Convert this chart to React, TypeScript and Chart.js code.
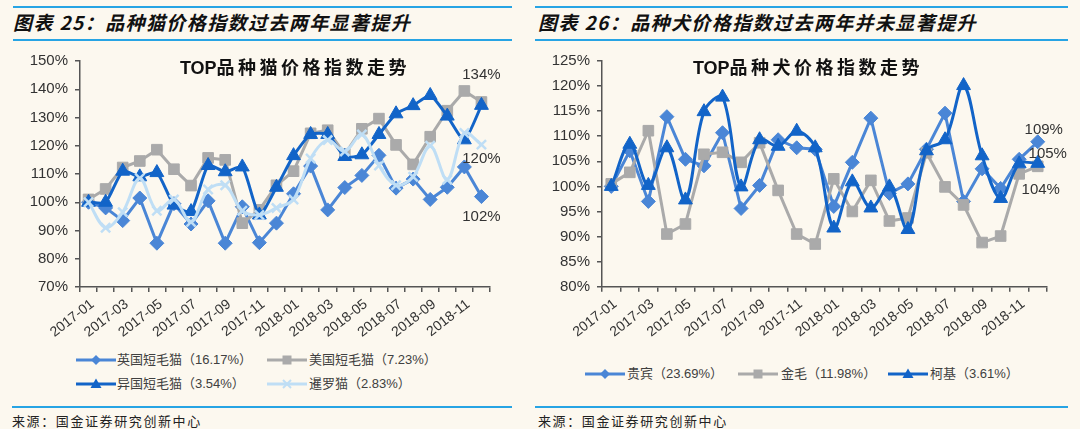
import React, { useEffect, useRef } from 'react';
import { Chart, registerables } from 'chart.js';

Chart.register(...registerables);

// ---------- data ----------
const months = [
  '2017-01', '2017-02', '2017-03', '2017-04', '2017-05', '2017-06',
  '2017-07', '2017-08', '2017-09', '2017-10', '2017-11', '2017-12',
  '2018-01', '2018-02', '2018-03', '2018-04', '2018-05', '2018-06',
  '2018-07', '2018-08', '2018-09', '2018-10', '2018-11', '2018-12',
];

// cats (index, %)
const catBritish = [100, 98, 93.5, 101.5, 85.5, 99.5, 92.3, 100.5, 85.5, 98.4, 85.7, 92.6, 103, 112.8, 97.3, 105.2, 109.5, 116.6, 105, 108.2, 101, 105.3, 112.5, 102];
const catAmerican = [101, 104.7, 112.3, 114.6, 118.6, 111.7, 105.9, 115.7, 115, 92.6, 97.3, 106, 111, 124.4, 125.5, 117, 126, 129.6, 120.3, 113.4, 123.2, 132.4, 139.4, 135.5];
const catExotic = [100, 100, 111, 109, 110.5, 99, 96.7, 113, 110.8, 112.5, 95.5, 105.3, 116.5, 124, 124, 116.2, 116.8, 124, 131.3, 134.2, 137.8, 130.5, 122.1, 134.3];
const catSiamese = [100, 91, 96.5, 108.5, 97, 101, 93, 104.5, 106, 97, 95.5, 98, 101, 115.5, 122, 118, 124, 113, 106, 109, 120, 108, 124.5, 120.4];

// dogs (index, %)
const dogPoodle = [100, 107.1, 97, 113.9, 105.4, 104.1, 110.7, 95.6, 100.2, 109.3, 107.7, 107.4, 96, 104.8, 113.6, 98.6, 100.5, 107.4, 114.6, 97, 103.5, 99.6, 105.4, 108.9];
const dogGolden = [100.5, 102.8, 111.1, 90.5, 92.5, 106.4, 106.8, 104.8, 108.7, 99.2, 90.5, 88.5, 101.5, 95, 101.2, 93.1, 93.7, 106.7, 99.9, 96.3, 88.8, 90.1, 102.5, 104];
const dogCorgi = [100, 108.4, 100.2, 107.7, 97.3, 114.9, 117.8, 99.9, 109.3, 108, 111, 107.7, 91.7, 100.9, 95.7, 99.9, 91.4, 107.1, 109.3, 120.1, 106.1, 97.6, 104.5, 104.6];

const catSeriesNames = ['英国短毛猫（16.17%）', '美国短毛猫（7.23%）', '异国短毛猫（3.54%）', '暹罗猫（2.83%）'];
const dogSeriesNames = ['贵宾（23.69%）', '金毛（11.98%）', '柯基（3.61%）'];

const catAxis = { min: 70, max: 150, step: 10 };
const dogAxis = { min: 80, max: 125, step: 5 };

// ---------- styles ----------
const BG = '#fcf8ef';
const C_MID = '#4a86d6';
const C_GRAY = '#aaaaaa';
const C_DARK = '#1264c8';
const C_LIGHT = '#bfdef5';
const RULE = '#27a4e4';
const AXIS = '#555555';
const TXT = '#333333';
const LATIN = '"Liberation Sans", Arial, "Noto Sans CJK SC", sans-serif';
const CJK = '"Noto Sans CJK SC", "Liberation Sans", sans-serif';

type Series = { name: string; data: number[]; color: string; style: string; radius: number; tension: number; order: number; endLabel?: { dx: number; dy: number } };

const catSeries: Series[] = [
  { name: catSeriesNames[0], data: catBritish, color: C_MID, style: 'rectRot', radius: 7, tension: 0, order: 4, endLabel: { dx: 0, dy: 20 } },
  { name: catSeriesNames[1], data: catAmerican, color: C_GRAY, style: 'rect', radius: 7.5, tension: 0, order: 3 },
  { name: catSeriesNames[2], data: catExotic, color: C_DARK, style: 'triangle', radius: 8, tension: 0.2, order: 2, endLabel: { dx: 0, dy: -30 } },
  { name: catSeriesNames[3], data: catSiamese, color: C_LIGHT, style: 'crossRot', radius: 6.5, tension: 0.35, order: 1, endLabel: { dx: 0, dy: 14 } },
];

const dogSeries: Series[] = [
  { name: dogSeriesNames[0], data: dogPoodle, color: C_MID, style: 'rectRot', radius: 7, tension: 0, order: 3, endLabel: { dx: 6, dy: -12 } },
  { name: dogSeriesNames[1], data: dogGolden, color: C_GRAY, style: 'rect', radius: 7.5, tension: 0, order: 2, endLabel: { dx: 3, dy: 24 } },
  { name: dogSeriesNames[2], data: dogCorgi, color: C_DARK, style: 'triangle', radius: 8, tension: 0.35, order: 1, endLabel: { dx: 10, dy: -9 } },
];

type Geo = { width: number; height: number; yWidth: number; xHeight: number; padRight: number; padTop: number };

function makeEndLabelPlugin(series: Series[]) {
  return {
    id: 'endLabels',
    afterDatasetsDraw(chart: any) {
      const ctx = chart.ctx;
      ctx.save();
      ctx.font = `15px ${LATIN}`;
      ctx.fillStyle = TXT;
      ctx.textAlign = 'center';
      ctx.textBaseline = 'middle';
      series.forEach((s, i) => {
        if (!s.endLabel) return;
        const meta = chart.getDatasetMeta(i);
        const pt = meta.data[meta.data.length - 1];
        const v = s.data[s.data.length - 1];
        ctx.fillText(Math.round(v) + '%', pt.x + s.endLabel.dx, pt.y + s.endLabel.dy);
      });
      ctx.restore();
    },
  };
}

function LineChart({ series, axis, geo }: { series: Series[]; axis: { min: number; max: number; step: number }; geo: Geo }) {
  const ref = useRef<HTMLCanvasElement | null>(null);
  useEffect(() => {
    if (!ref.current) return;
    const chart = new Chart(ref.current, {
      type: 'line',
      data: {
        labels: months,
        datasets: series.map((s) => ({
          label: s.name,
          data: s.data,
          borderColor: s.color,
          backgroundColor: s.color,
          borderWidth: 3,
          pointStyle: s.style as any,
          pointRadius: s.radius,
          pointBorderWidth: s.style === 'crossRot' ? 2.5 : 1,
          pointBorderColor: s.color,
          pointBackgroundColor: s.color,
          tension: s.tension,
          order: s.order,
          fill: false,
        })),
      },
      options: {
        responsive: false,
        animation: false,
        devicePixelRatio: 1,
        layout: { padding: { left: 0, right: geo.padRight, top: geo.padTop, bottom: 0 } },
        plugins: { legend: { display: false }, tooltip: { enabled: false }, title: { display: false } },
        scales: {
          x: {
            type: 'category',
            offset: true,
            grid: { offset: true, drawOnChartArea: false, drawTicks: true, tickLength: 5, color: AXIS, lineWidth: 1.5 },
            border: { display: true, color: AXIS, width: 1.5 },
            ticks: {
              autoSkip: false,
              minRotation: 38,
              maxRotation: 38,
              padding: 4,
              labelOffset: 4,
              color: TXT,
              font: { family: LATIN, size: 14 },
              callback: (_v: any, idx: number) => (idx % 2 === 0 ? months[idx] : ''),
            },
            afterFit: (s: any) => { s.height = geo.xHeight; },
          },
          y: {
            min: axis.min,
            max: axis.max,
            grid: { drawOnChartArea: false, drawTicks: true, tickLength: 5, color: AXIS, lineWidth: 1.5 },
            border: { display: true, color: AXIS, width: 1.5 },
            ticks: {
              stepSize: axis.step,
              padding: 7,
              color: TXT,
              font: { family: LATIN, size: 15 },
              callback: (v: any) => v + '%',
            },
            afterFit: (s: any) => { s.width = geo.yWidth; },
          },
        },
      },
      plugins: [makeEndLabelPlugin(series)],
    } as any);
    return () => chart.destroy();
  }, []);
  return <canvas ref={ref} width={geo.width} height={geo.height} style={{ display: 'block', width: geo.width, height: geo.height }} />;
}

function Marker({ style, color }: { style: string; color: string }) {
  const cx = 20, cy = 7;
  let shape: any = null;
  if (style === 'rectRot') shape = <polygon points={`${cx},${cy - 5} ${cx + 5},${cy} ${cx},${cy + 5} ${cx - 5},${cy}`} fill={color} />;
  else if (style === 'rect') shape = <rect x={cx - 4.5} y={cy - 4.5} width={9} height={9} fill={color} />;
  else if (style === 'triangle') shape = <polygon points={`${cx},${cy - 5.5} ${cx + 5.5},${cy + 4} ${cx - 5.5},${cy + 4}`} fill={color} />;
  else shape = <g stroke={color} strokeWidth={2}><line x1={cx - 4} y1={cy - 4} x2={cx + 4} y2={cy + 4} /><line x1={cx - 4} y1={cy + 4} x2={cx + 4} y2={cy - 4} /></g>;
  return (
    <svg width={40} height={14} style={{ display: 'block' }}>
      <line x1={0} y1={cy} x2={40} y2={cy} stroke={color} strokeWidth={3} />
      {shape}
    </svg>
  );
}

function LegendItem({ s, x, y, textX }: { s: Series; x: number; y: number; textX: number }) {
  return (
    <>
      <div style={{ position: 'absolute', left: x, top: y - 7 }}><Marker style={s.style} color={s.color} /></div>
      <div style={{ position: 'absolute', left: textX, top: y - 10, height: 20, lineHeight: '20px', fontSize: 13, fontFamily: LATIN, color: '#404040', whiteSpace: 'nowrap' }}>{s.name}</div>
    </>
  );
}

function Rule({ x1, x2, y }: { x1: number; x2: number; y: number }) {
  return <div style={{ position: 'absolute', left: x1, top: y - 1, width: x2 - x1, height: 2, background: RULE }} />;
}

function Header({ x, num, text }: { x: number; num: string; text: string }) {
  return (
    <div style={{ position: 'absolute', left: x, top: 10, height: 24, lineHeight: '24px', fontFamily: CJK, fontWeight: 700, fontStyle: 'italic', fontSize: 19, letterSpacing: 1.4, color: '#111', whiteSpace: 'nowrap' }}>
      {`图表 ${num}：${text}`}
    </div>
  );
}

function ChartTitle({ cx, animal }: { cx: number; animal: string }) {
  return (
    <div style={{ position: 'absolute', left: cx - 150, width: 300, top: 55, height: 22, lineHeight: '22px', textAlign: 'center', fontWeight: 700, fontSize: 18, color: '#111', whiteSpace: 'nowrap' }}>
      <span style={{ fontFamily: LATIN }}>TOP</span>
      <span style={{ fontFamily: CJK, letterSpacing: 3.5 }}>{`品种${animal}价格指数走势`}</span>
    </div>
  );
}

function Source({ x }: { x: number }) {
  return (
    <div style={{ position: 'absolute', left: x, top: 412, height: 18, lineHeight: '18px', fontFamily: CJK, fontSize: 13, letterSpacing: 1.6, color: '#222', whiteSpace: 'nowrap' }}>
      来源：国金证券研究创新中心
    </div>
  );
}

export default function App() {
  return (
    <div style={{ position: 'absolute', left: 0, top: 0, width: 1080, height: 429, background: BG, overflow: 'hidden' }}>
      {/* left panel */}
      <Rule x1={13} x2={512} y={7} />
      <Header x={13} num="25" text="品种猫价格指数过去两年显著提升" />
      <Rule x1={13} x2={512} y={40} />
      <div style={{ position: 'absolute', left: 0, top: 45 }}>
        <LineChart series={catSeries} axis={catAxis} geo={{ width: 520, height: 300, yWidth: 80, xHeight: 58, padRight: 30, padTop: 11 }} />
      </div>
      <ChartTitle cx={295} animal="猫" />
      <LegendItem s={catSeries[0]} x={76} y={360} textX={117} />
      <LegendItem s={catSeries[1]} x={267} y={360} textX={309} />
      <LegendItem s={catSeries[2]} x={76} y={384} textX={117} />
      <LegendItem s={catSeries[3]} x={267} y={384} textX={309} />
      <Rule x1={12} x2={512} y={407} />
      <Source x={12} />

      {/* right panel */}
      <Rule x1={535} x2={1068} y={7} />
      <Header x={538} num="26" text="品种犬价格指数过去两年并未显著提升" />
      <Rule x1={535} x2={1068} y={40} />
      <div style={{ position: 'absolute', left: 540, top: 45 }}>
        <LineChart series={dogSeries} axis={dogAxis} geo={{ width: 530, height: 300, yWidth: 62, xHeight: 58.3, padRight: 23, padTop: 11.7 }} />
      </div>
      <ChartTitle cx={808} animal="犬" />
      <LegendItem s={dogSeries[0]} x={585} y={374} textX={627} />
      <LegendItem s={dogSeries[1]} x={738} y={374} textX={781} />
      <LegendItem s={dogSeries[2]} x={888} y={374} textX={930} />
      <Rule x1={535} x2={1068} y={407} />
      <Source x={538} />
    </div>
  );
}
